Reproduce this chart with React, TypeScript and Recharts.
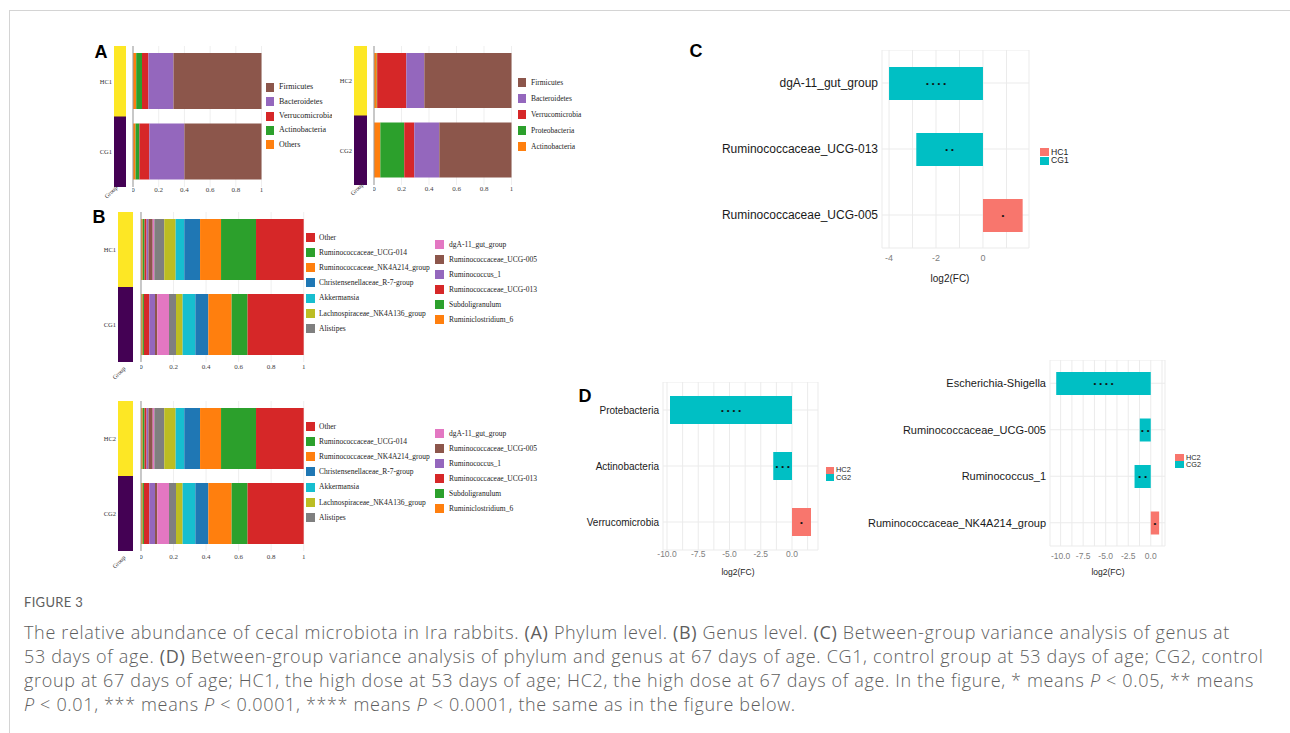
import React from 'react';
import { BarChart, Bar, XAxis, YAxis, CartesianGrid, Cell, LabelList } from 'recharts';

const SERIF = '"Liberation Serif", "Times New Roman", serif';
const SANS = '"Liberation Sans", Arial, sans-serif';
const CAPTION_FONT = '"Open Sans", Lato, sans-serif';

const HC_COLOR = '#F8766D';
const CG_COLOR = '#00BFC4';
const STRIP_COLORS = ['#FDE725', '#440154'];

// group rows (top to bottom)
const groupsDay53 = ['HC1', 'CG1'];
const groupsDay67 = ['HC2', 'CG2'];

// A: phylum level, stack order left -> right
const phylumDay53 = ['Others', 'Actinobacteria', 'Verrucomicrobia', 'Bacteroidetes', 'Firmicutes'];
const phylumDay53Colors = ['#FF7F0E', '#2CA02C', '#D62728', '#9467BD', '#8C564B'];
const phylumHC1 = [0.025, 0.045, 0.05, 0.195, 0.685];
const phylumCG1 = [0.02, 0.03, 0.077, 0.273, 0.6];

const phylumDay67 = ['Actinobacteria', 'Proteobacteria', 'Verrucomicrobia', 'Bacteroidetes', 'Firmicutes'];
const phylumDay67Colors = ['#FF7F0E', '#2CA02C', '#D62728', '#9467BD', '#8C564B'];
const phylumHC2 = [0.02, 0.003, 0.212, 0.131, 0.634];
const phylumCG2 = [0.046, 0.174, 0.073, 0.182, 0.525];

// B: genus level, stack order left -> right
const genera = [
  'Ruminiclostridium_6', 'Subdoligranulum', 'Ruminococcaceae_UCG-013', 'Ruminococcus_1',
  'Ruminococcaceae_UCG-005', 'dgA-11_gut_group', 'Alistipes', 'Lachnospiraceae_NK4A136_group',
  'Akkermansia', 'Christensenellaceae_R-7-group', 'Ruminococcaceae_NK4A214_group',
  'Ruminococcaceae_UCG-014', 'Other',
];
const genusColors = [
  '#FF7F0E', '#2CA02C', '#D62728', '#9467BD', '#8C564B', '#E377C2', '#7F7F7F',
  '#BCBD22', '#17BECF', '#1F77B4', '#FF7F0E', '#2CA02C', '#D62728',
];
const genusHC1 = [0.01, 0.012, 0.012, 0.012, 0.026, 0.01, 0.061, 0.07, 0.053, 0.097, 0.129, 0.215, 0.293];
const genusCG1 = [0.01, 0.008, 0.033, 0.035, 0.014, 0.072, 0.043, 0.041, 0.078, 0.08, 0.143, 0.098, 0.345];
const genusHC2 = [0.01, 0.012, 0.012, 0.012, 0.026, 0.01, 0.061, 0.07, 0.053, 0.097, 0.129, 0.215, 0.293];
const genusCG2 = [0.01, 0.008, 0.033, 0.035, 0.014, 0.072, 0.043, 0.041, 0.078, 0.08, 0.143, 0.098, 0.345];

const stackTicks = [0, 0.2, 0.4, 0.6, 0.8, 1];

// C: genus fold change at 53 days
const genusDay53Names = ['dgA-11_gut_group', 'Ruminococcaceae_UCG-013', 'Ruminococcaceae_UCG-005'];
const genusDay53FC = [-4.0, -2.84, 1.69];
const genusDay53Sig = ['****', '**', '*'];
const cTicks = [-4, -3, -2, -1, 0, 1];

// D: phylum and genus fold change at 67 days
const phylumDay67Names = ['Protebacteria', 'Actinobacteria', 'Verrucomicrobia'];
const phylumDay67FC = [-9.76, -1.5, 1.52];
const phylumDay67Sig = ['****', '***', '*'];
const genusDay67Names = ['Escherichia-Shigella', 'Ruminococcaceae_UCG-005', 'Ruminococcus_1', 'Ruminococcaceae_NK4A214_group'];
const genusDay67FC = [-10.49, -1.22, -1.8, 0.93];
const genusDay67Sig = ['****', '**', '**', '*'];
const dTicks = [-10, -8.75, -7.5, -6.25, -5, -3.75, -2.5, -1.25, 0, 1.25];

const abs = (left: number, top: number): React.CSSProperties => ({ position: 'absolute', left, top });

function GroupStrip({ x, y, w, h, rows, labelW }: any) {
  const data = rows.map((r: string) => ({ name: r, v: 1 }));
  return (
    <div style={abs(x - labelW, y)}>
      <BarChart width={labelW + w} height={h} data={data} layout="vertical"
        margin={{ top: 0, right: 0, bottom: 0, left: 0 }} barCategoryGap={0}>
        <XAxis type="number" domain={[0, 1]} hide />
        <YAxis type="category" dataKey="name" width={labelW} axisLine={false} tickLine={false}
          tickSize={0} tickMargin={2} tick={{ fontSize: 6.5, fill: '#333', fontFamily: SERIF }} />
        <Bar dataKey="v" isAnimationActive={false}>
          {data.map((_: any, i: number) => <Cell key={i} fill={STRIP_COLORS[i]} />)}
        </Bar>
      </BarChart>
    </div>
  );
}

function StackPanel({ x, y, plotW, plotH, barSize, rows, values, keys, colors, tickGap }: any) {
  const data = rows.map((r: string, ri: number) => {
    const o: any = { name: r };
    keys.forEach((_: string, i: number) => { o['s' + i] = values[ri][i]; });
    return o;
  });
  return (
    <div style={abs(x - 1, y)}>
      <BarChart width={plotW + 1 + 10} height={plotH + 16} data={data} layout="vertical"
        margin={{ top: 0, right: 10, bottom: 0, left: 0 }}>
        <CartesianGrid horizontal={false} stroke="#EFEFEF" />
        <XAxis type="number" domain={[0, 1]} ticks={stackTicks} interval={0} height={16}
          axisLine={false} tickLine={false} tickSize={0} tickMargin={tickGap}
          tick={{ fontSize: 7, fill: '#444', fontFamily: SERIF }} />
        <YAxis type="category" dataKey="name" width={1} tick={false} tickLine={false}
          axisLine={{ stroke: '#999' }} />
        {keys.map((k: string, i: number) => (
          <Bar key={k} dataKey={'s' + i} stackId="a" fill={colors[i]} barSize={barSize}
            isAnimationActive={false} />
        ))}
      </BarChart>
    </div>
  );
}

const renderStars = (p: any) => {
  const cx = Number(p.x) + Number(p.width) / 2;
  const cy = Number(p.y) + Number(p.height) / 2;
  return (
    <text x={cx} y={cy} dx={1.5} textAnchor="middle" dominantBaseline="central" fontSize={8}
      letterSpacing={3} fontFamily={SANS} fill="#111">
      {'•'.repeat(String(p.value).length)}
    </text>
  );
};

function FoldChart({ x, y, labelW, plotW, plotH, barSize, names, fc, sig, domain, ticks, fmt,
  labelFs, tickFs, tickGap }: any) {
  const data = names.map((n: string, i: number) => ({ name: n, fc: fc[i], sig: sig[i] }));
  return (
    <div style={abs(x - labelW, y)}>
      <BarChart width={labelW + plotW + 14} height={plotH + 22} data={data} layout="vertical"
        margin={{ top: 0, right: 14, bottom: 0, left: 0 }}>
        <CartesianGrid stroke="#EBEBEB" />
        <XAxis type="number" domain={domain} ticks={ticks} interval={0} tickFormatter={fmt}
          height={22} axisLine={false} tickLine={false} tickSize={0} tickMargin={tickGap}
          tick={{ fontSize: tickFs, fill: '#808080', fontFamily: SANS }} />
        <YAxis type="category" dataKey="name" width={labelW} axisLine={false} tickLine={false}
          tickSize={0} tickMargin={4} tick={{ fontSize: labelFs, fill: '#1A1A1A', fontFamily: SANS }} />
        <Bar dataKey="fc" barSize={barSize} isAnimationActive={false}>
          {data.map((d: any, i: number) => <Cell key={i} fill={d.fc < 0 ? CG_COLOR : HC_COLOR} />)}
          <LabelList dataKey="sig" content={renderStars} />
        </Bar>
      </BarChart>
    </div>
  );
}

function KeyList({ x, y, step, sqW, sqH, names, colors, textX, fs, font, clipW }: any) {
  return (
    <div style={{ ...abs(x, y - 10), width: clipW ?? 300, height: names.length * step + 20, overflow: 'hidden' }}>
      {names.map((n: string, i: number) => {
        const cy = 10 + i * step;
        return (
          <React.Fragment key={n + i}>
            <div style={{ ...abs(0, cy - sqH / 2), width: sqW, height: sqH, background: colors[i] }} />
            <div style={{ ...abs(textX - x, cy - fs / 2), fontSize: fs, lineHeight: fs + 'px',
              fontFamily: font, color: '#222', whiteSpace: 'nowrap' }}>{n}</div>
          </React.Fragment>
        );
      })}
    </div>
  );
}

function Label({ x, y, text, fs, font, bold, color, rotate }: any) {
  return (
    <div style={{ ...abs(x, y), transform: `translate(-50%, -50%)${rotate ? ` rotate(${rotate}deg)` : ''}`,
      fontSize: fs, lineHeight: fs + 'px', fontFamily: font ?? SANS, fontWeight: bold ? 700 : 400,
      color: color ?? '#000', whiteSpace: 'nowrap' }}>{text}</div>
  );
}

const fmtC = (v: number) => (v % 2 === 0 ? String(v) : '');
const fmtD = (v: number) => (v % 2.5 === 0 ? v.toFixed(1) : '');

const rev = (a: any[]) => [...a].reverse();

export default function App() {
  const gLeg = rev(genera);
  const gLegColors = rev(genusColors);
  const capLine: React.CSSProperties = {
    position: 'absolute', left: 24, fontSize: 18, lineHeight: '24px', fontFamily: CAPTION_FONT,
    color: '#5E5E5E', whiteSpace: 'nowrap', fontWeight: 300, letterSpacing: 0.66,
  };
  const P = <i>P</i>;
  return (
    <div style={{ position: 'absolute', left: 0, top: 0, width: 1290, height: 733, background: '#fff',
      overflow: 'hidden' }}>
      <div style={{ ...abs(9, 10), width: 1300, height: 740, borderTop: '1px solid #D4D4D4',
        borderLeft: '1px solid #D4D4D4' }} />

      {/* A */}
      <Label x={101} y={52} text="A" fs={18} bold />
      <GroupStrip x={114} y={46} w={12} h={141} labelW={30} rows={groupsDay53} />
      <StackPanel x={132.5} y={46} plotW={128.5} plotH={141} barSize={56} rows={groupsDay53}
        values={[phylumHC1, phylumCG1]} keys={phylumDay53} colors={phylumDay53Colors} tickGap={0} />
      <Label x={111} y={192} text="Group" fs={6} font={SERIF} color="#333" rotate={-45} />
      <KeyList x={266} y={87.3} step={14.4} sqW={8} sqH={9} names={rev(phylumDay53)}
        colors={rev(phylumDay53Colors)} textX={279} fs={8} font={SERIF} clipW={66} />

      <GroupStrip x={354} y={46} w={13} h={139} labelW={30} rows={groupsDay67} />
      <StackPanel x={374} y={46} plotW={137.5} plotH={139} barSize={55} rows={groupsDay67}
        values={[phylumHC2, phylumCG2]} keys={phylumDay67} colors={phylumDay67Colors} tickGap={1} />
      <Label x={357} y={189} text="Group" fs={6} font={SERIF} color="#333" rotate={-45} />
      <KeyList x={518} y={82.7} step={16} sqW={8} sqH={9} names={rev(phylumDay67)}
        colors={rev(phylumDay67Colors)} textX={531} fs={7.5} font={SERIF} />

      {/* B */}
      <Label x={99} y={217} text="B" fs={18} bold />
      <GroupStrip x={118} y={212} w={15} h={150} labelW={34} rows={groupsDay53} />
      <StackPanel x={141} y={212} plotW={162.7} plotH={150} barSize={61} rows={groupsDay53}
        values={[genusHC1, genusCG1]} keys={genera} colors={genusColors} tickGap={2} />
      <Label x={119} y={373} text="Group" fs={6} font={SERIF} color="#333" rotate={-45} />
      <KeyList x={306} y={237.3} step={15.2} sqW={9} sqH={9} names={gLeg.slice(0, 7)}
        colors={gLegColors.slice(0, 7)} textX={319} fs={7.5} font={SERIF} />
      <KeyList x={435} y={244.3} step={15.1} sqW={9} sqH={9} names={gLeg.slice(7)}
        colors={gLegColors.slice(7)} textX={449} fs={7.5} font={SERIF} />

      <GroupStrip x={118} y={401} w={15} h={150} labelW={34} rows={groupsDay67} />
      <StackPanel x={141} y={401} plotW={162.7} plotH={150} barSize={61} rows={groupsDay67}
        values={[genusHC2, genusCG2]} keys={genera} colors={genusColors} tickGap={3} />
      <Label x={119} y={562} text="Group" fs={6} font={SERIF} color="#333" rotate={-45} />
      <KeyList x={306} y={426.3} step={15.2} sqW={9} sqH={9} names={gLeg.slice(0, 7)}
        colors={gLegColors.slice(0, 7)} textX={319} fs={7.5} font={SERIF} />
      <KeyList x={435} y={433.3} step={15.1} sqW={9} sqH={9} names={gLeg.slice(7)}
        colors={gLegColors.slice(7)} textX={449} fs={7.5} font={SERIF} />

      {/* C */}
      <Label x={696} y={51} text="C" fs={18} bold />
      <FoldChart x={882} y={50} labelW={190} plotW={147} plotH={198} barSize={33}
        names={genusDay53Names} fc={genusDay53FC} sig={genusDay53Sig} domain={[-4.3, 1.96]}
        ticks={cTicks} fmt={fmtC} labelFs={12} tickFs={9} tickGap={7} />
      <Label x={950} y={279} text="log2(FC)" fs={10} color="#222" />
      <KeyList x={1040} y={152.2} step={8.6} sqW={9} sqH={8} names={['HC1', 'CG1']}
        colors={[HC_COLOR, CG_COLOR]} textX={1051} fs={8.6} font={SANS} />

      {/* D */}
      <Label x={585} y={396} text="D" fs={18} bold />
      <FoldChart x={663} y={382} labelW={100} plotW={155} plotH={168} barSize={28}
        names={phylumDay67Names} fc={phylumDay67FC} sig={phylumDay67Sig} domain={[-10.32, 2.08]}
        ticks={dTicks} fmt={fmtD} labelFs={10} tickFs={8.5} tickGap={1} />
      <Label x={738} y={572} text="log2(FC)" fs={8.5} color="#222" />
      <KeyList x={826} y={470} step={7.4} sqW={7.5} sqH={7} names={['HC2', 'CG2']}
        colors={[HC_COLOR, CG_COLOR]} textX={836} fs={7.4} font={SANS} />

      <FoldChart x={1050} y={360} labelW={190} plotW={115} plotH={186} barSize={23}
        names={genusDay67Names} fc={genusDay67FC} sig={genusDay67Sig} domain={[-11.18, 1.58]}
        ticks={dTicks} fmt={fmtD} labelFs={11} tickFs={8.5} tickGap={7} />
      <Label x={1108} y={572} text="log2(FC)" fs={8.5} color="#222" />
      <KeyList x={1175} y={457.7} step={7.3} sqW={8.5} sqH={7} names={['HC2', 'CG2']}
        colors={[HC_COLOR, CG_COLOR]} textX={1186} fs={7.3} font={SANS} />

      {/* caption */}
      <div style={{ ...abs(24, 595), fontSize: 13, lineHeight: '14px', fontFamily: 'Lato, sans-serif',
        color: '#5E5E5E', letterSpacing: 0.3 }}>FIGURE 3</div>
      <div style={{ ...capLine, top: 620 }}>
        The relative abundance of cecal microbiota in Ira rabbits. <b>(A)</b> Phylum level. <b>(B)</b> Genus
        level. <b>(C)</b> Between-group variance analysis of genus at
      </div>
      <div style={{ ...capLine, top: 644 }}>
        53 days of age. <b>(D)</b> Between-group variance analysis of phylum and genus at 67 days of age. CG1,
        control group at 53 days of age; CG2, control
      </div>
      <div style={{ ...capLine, top: 668 }}>
        group at 67 days of age; HC1, the high dose at 53 days of age; HC2, the high dose at 67 days of age. In
        the figure, * means {P} &lt; 0.05, ** means
      </div>
      <div style={{ ...capLine, top: 692 }}>
        {P} &lt; 0.01, *** means {P} &lt; 0.0001, **** means {P} &lt; 0.0001, the same as in the figure below.
      </div>
    </div>
  );
}
